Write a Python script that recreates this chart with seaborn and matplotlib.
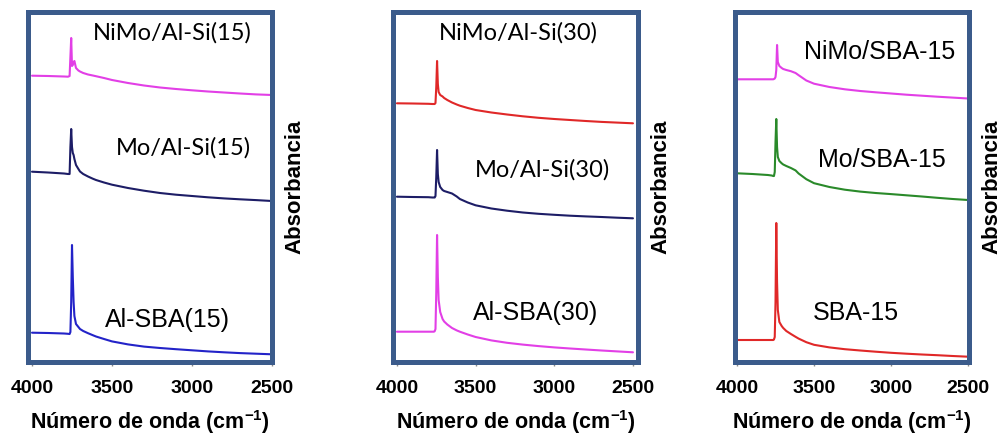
import pandas as pd
import matplotlib.pyplot as plt
import seaborn as sns

sns.set_style("white")
plt.rcParams["font.family"] = ["Liberation Sans", "DejaVu Sans"]
plt.rcParams["mathtext.fontset"] = "custom"
plt.rcParams["mathtext.bf"] = "Liberation Sans:bold"
plt.rcParams["mathtext.rm"] = "Liberation Sans"

# Número de onda (cm-1), común a todos los espectros
numero_onda = [4000, 3900, 3800, 3775, 3765, 3760, 3755, 3750, 3745, 3740,
               3735, 3725, 3710, 3700, 3680, 3650, 3620, 3600, 3550, 3500,
               3400, 3300, 3200, 3100, 3000, 2900, 2800, 2700, 2600, 2500]

# Panel 1 - Al-Si(15)
nimo_alsi15 = [286.3, 286, 285.5, 285.3, 286, 305, 324, 296, 297, 300,
               301, 294, 291.5, 290.5, 289, 287.5, 286.5, 285.8, 284, 282,
               279, 276.5, 274.5, 273, 271.7, 270.5, 269.5, 268.5, 267.6, 267]
mo_alsi15 = [190.3, 189.5, 188.5, 188, 188, 215, 233, 215, 209, 207,
             203, 197, 193, 190.5, 188, 185.5, 183.3, 182, 179.5, 177.3,
             174, 171.3, 169, 167.3, 166, 164.7, 163.6, 162.7, 161.9, 161]
alsba15 = [29.3, 29, 28.5, 28.2, 28, 30, 60, 117, 85, 60,
           46, 38, 35, 33, 31, 28.8, 26.8, 25.5, 23, 20.6,
           17.6, 15.4, 14, 12.8, 11.7, 10.6, 9.7, 8.9, 8.3, 7.7]

# Panel 2 - Al-Si(30)
nimo_alsi30 = [258.7, 258.5, 258.2, 258, 258, 258, 259, 275, 301, 278,
               270, 267, 265.5, 264, 262, 259.5, 257.5, 256.3, 254, 252,
               249.5, 247.5, 245.7, 244.2, 243, 242, 241, 240.1, 239.4, 238.7]
mo_alsi30 = [165.3, 165, 164.8, 164.5, 164.5, 164.5, 166, 185, 212, 188,
             180, 175, 172, 171, 170, 168.5, 165.5, 163, 159.5, 156.7,
             153.5, 151.3, 149.5, 148.2, 147.2, 146.3, 145.6, 145, 144.3, 143.7]
alsba30 = [30.3, 30.3, 30.3, 30.3, 30.3, 30.8, 33, 70, 127, 85,
           62, 50, 43, 40.5, 37.5, 34, 31.6, 30.3, 27.5, 25,
           21.6, 19.2, 17.4, 15.9, 14.6, 13.5, 12.5, 11.5, 10.6, 9.7]

# Panel 3 - SBA-15
nimo_sba15 = [282.7, 282.7, 282.7, 282.7, 282.7, 283, 283.5, 285, 292, 317,
              300, 296, 294, 293, 292, 290.8, 289, 286.8, 281.5, 278.3,
              275, 272.7, 271, 269.7, 268.5, 267.3, 266.3, 265.3, 264.4, 263.5]
mo_sba15 = [188.7, 188, 187, 186.5, 186, 186, 190, 220, 243, 215,
            205, 201, 198.7, 197.5, 196, 194, 191.6, 188.5, 182.8, 178.8,
            175, 172.3, 170.4, 169, 167.9, 166.7, 165.5, 164.2, 163, 162]
sba15 = [22, 22, 22, 22, 22, 22.5, 25, 60, 139, 80,
         52, 40, 36, 34, 31, 28, 25.2, 23.4, 19.8, 17.2,
         14.6, 12.8, 11.5, 10.3, 9.2, 8.3, 7.5, 6.8, 6, 5.3]

paneles = [
    {"series": {"NiMo/Al-Si(15)": nimo_alsi15, "Mo/Al-Si(15)": mo_alsi15, "Al-SBA(15)": alsba15},
     "colores": ["#e23fe6", "#1d1d66", "#2323c8"],
     "rect": (28, 272), "xlim": (4025, 2500),
     "etiquetas": [(3125, 329, "Lato"), (3056, 214, "Lato"), (3156, 42, "Liberation Sans")]},
    {"series": {"NiMo/Al-Si(30)": nimo_alsi30, "Mo/Al-Si(30)": mo_alsi30, "Al-SBA(30)": alsba30},
     "colores": ["#e02828", "#1d1d66", "#e23fe6"],
     "rect": (393, 638), "xlim": (4025, 2468),
     "etiquetas": [(3230, 329, "Lato"), (3078, 192, "Lato"), (3122, 49, "Liberation Sans")]},
    {"series": {"NiMo/SBA-15": nimo_sba15, "Mo/SBA-15": mo_sba15, "SBA-15": sba15},
     "colores": ["#e23fe6", "#2a8a2a", "#e02828"],
     "rect": (735, 969), "xlim": (4013, 2494),
     "etiquetas": [(3072, 310, "Liberation Sans"), (3059, 202, "Liberation Sans"), (3228, 49, "Liberation Sans")]},
]

W, H = 1005, 441
fig = plt.figure(figsize=(W / 100, H / 100), dpi=100)

for p in paneles:
    x0, x1 = p["rect"]
    ax = fig.add_axes([x0 / W, (H - 362) / H, (x1 - x0) / W, 350 / H])

    # formato largo para seaborn
    filas = []
    for nombre, valores in p["series"].items():
        for w, a in zip(numero_onda, valores):
            filas.append({"onda": w, "abs": a, "muestra": nombre})
    df = pd.DataFrame(filas)

    sns.lineplot(data=df, x="onda", y="abs", hue="muestra",
                 palette=p["colores"], linewidth=1.5, legend=False, ax=ax,
                 sort=False)

    ax.set_xlim(*p["xlim"])
    ax.set_ylim(0, 350)
    ax.set_xticks([4000, 3500, 3000, 2500])
    ax.set_yticks([])
    ax.tick_params(axis="x", direction="out", length=3, color="#888888",
                   width=1, pad=10, labelsize=14, labelcolor="black", bottom=True)
    plt.setp(ax.get_xticklabels(), fontweight="bold")

    for s in ax.spines.values():
        s.set_color("#3b5b8b")
        s.set_linewidth(3.6)

    for (xt, yt, fam), nombre in zip(p["etiquetas"], p["series"].keys()):
        ax.text(xt, yt, nombre, ha="center", va="center",
                fontsize=17 if fam == "Lato" else 18,
                family=fam, color="black")

    ax.set_xlabel(r"Número de onda (cm$^{\mathbf{-1}}$)", fontsize=15.5,
                  fontweight="bold", labelpad=8, color="black")
    ax.yaxis.set_label_position("right")
    ax.set_ylabel("Absorbancia", fontsize=16, fontweight="bold",
                  labelpad=9, color="black")

fig.savefig("out.png", dpi=100)
